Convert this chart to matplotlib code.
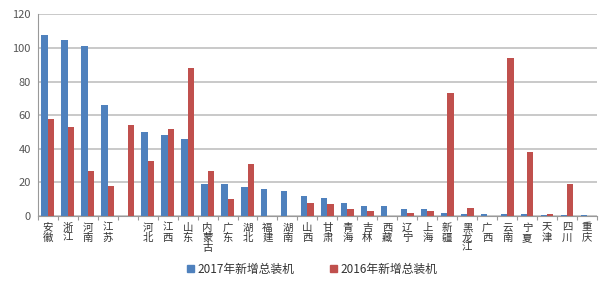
import numpy as np
import matplotlib.pyplot as plt
from matplotlib.patches import Patch

plt.rcParams['font.family'] = ['Noto Sans CJK SC', 'DejaVu Sans']

# 各省份新增总装机
provinces = ['安徽', '浙江', '河南', '江苏', '', '河北', '江西', '山东', '内蒙古', '广东',
             '湖北', '福建', '湖南', '山西', '甘肃', '青海', '吉林', '西藏', '辽宁', '上海',
             '新疆', '黑龙江', '广西', '云南', '宁夏', '天津', '四川', '重庆']
new_2017 = [108, 105, 101, 66, 0, 50, 48, 46, 19, 19,
            17, 16, 15, 12, 11, 8, 6, 6, 4, 4,
            2, 1, 1, 1, 1, 0.5, 0.5, 0.5]
new_2016 = [58, 53, 27, 18, 54, 33, 52, 88, 27, 10,
            31, 0, 0, 8, 7, 4, 3, 0, 2, 3,
            73, 5, 0, 94, 38, 1, 19, 0]

blue = '#4F81BD'
red = '#C0504D'

fig = plt.figure(figsize=(6, 2.88), dpi=100)
ax = fig.add_axes([0.063, 0.25, 0.932, 0.70])

x = np.arange(len(provinces))
w = 0.32
ax.bar(x - w / 2, new_2017, width=w, color=blue, zorder=3)
ax.bar(x + w / 2, new_2016, width=w, color=red, zorder=3)

ax.set_xlim(-0.5, len(provinces) - 0.5)
ax.set_ylim(0, 120)
ax.set_yticks(range(0, 121, 20))
ax.yaxis.grid(True, color='#c0c0c0', linewidth=1.2, zorder=0)
ax.tick_params(axis='y', length=0, labelsize=8, colors='#555555', pad=5)

# 类别之间的小刻度
ax.set_xticks(np.arange(-0.5, len(provinces), 1))
ax.set_xticklabels([])
ax.tick_params(axis='x', length=3, color='#999999', direction='out')
for i, name in enumerate(provinces):
    ax.text(i, -4, '\n'.join(name), ha='center', va='top', fontsize=7.5,
            linespacing=1.0, color='#333333')

for side in ['top', 'right']:
    ax.spines[side].set_visible(False)
ax.spines['left'].set_color('#999999')
ax.spines['bottom'].set_color('#999999')

handles = [Patch(color=blue, label='2017年新增总装机'),
           Patch(color=red, label='2016年新增总装机')]
fig.legend(handles=handles, loc='center', bbox_to_anchor=(0.52, 0.065), ncol=2,
           frameon=False, fontsize=8.5, handlelength=0.6, handleheight=0.6,
           handletextpad=0.3, columnspacing=3, labelcolor='#333333')

fig.savefig('out.png', dpi=100)
